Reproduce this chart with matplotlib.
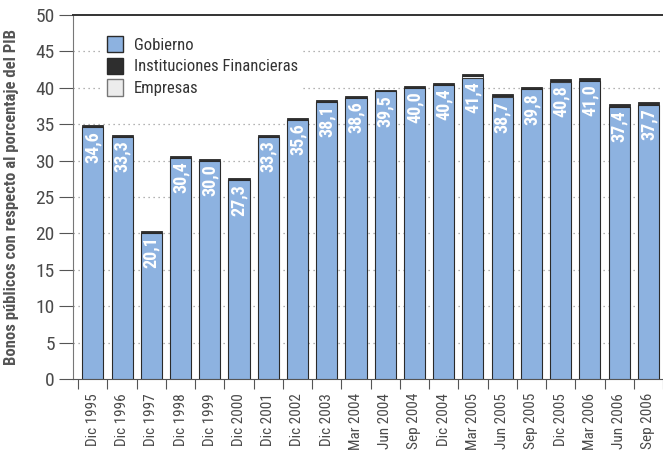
import matplotlib
matplotlib.use("Agg")
import matplotlib.pyplot as plt
from matplotlib import font_manager
from matplotlib.patches import Patch
import numpy as np

categories = ["Dic 1995", "Dic 1996", "Dic 1997", "Dic 1998", "Dic 1999", "Dic 2000",
              "Dic 2001", "Dic 2002", "Dic 2003", "Mar 2004", "Jun 2004", "Sep 2004",
              "Dic 2004", "Mar 2005", "Jun 2005", "Sep 2005", "Dic 2005", "Mar 2006",
              "Jun 2006", "Sep 2006"]
gobierno = [34.6, 33.3, 20.1, 30.4, 30.0, 27.3, 33.3, 35.6, 38.1, 38.6, 39.5, 40.0,
            40.4, 41.4, 38.7, 39.8, 40.8, 41.0, 37.4, 37.7]
empresas = [0.0, 0.0, 0.0, 0.0, 0.0, 0.0, 0.0, 0.0, 0.0, 0.0, 0.0, 0.0,
            0.0, 0.2, 0.15, 0.0, 0.15, 0.0, 0.0, 0.0]
instituciones = [0.25, 0.25, 0.25, 0.25, 0.25, 0.25, 0.25, 0.25, 0.25, 0.25, 0.25, 0.3,
                 0.3, 0.3, 0.3, 0.3, 0.3, 0.3, 0.35, 0.35]
y_ticks = list(range(0, 55, 5))

# Prefer a narrow sans face when one is available
available = {f.name for f in font_manager.fontManager.ttflist}
family = [n for n in ["Liberation Sans Narrow", "Roboto Condensed", "Roboto",
                      "DejaVu Sans"] if n in available]
plt.rcParams['font.family'] = family

blue = "#8db2e0"
dark = "#2e2e2e"
light = "#ececec"
edge = "#2a2a2a"
text_gray = "#4a4a4a"

fig = plt.figure(figsize=(6.63, 4.54), dpi=100)
ax = fig.add_axes([0.110, 0.165, 0.890, 0.802])

x = np.arange(len(categories))
w = 0.72
g = np.array(gobierno)
e = np.array(empresas)
f = np.array(instituciones)

ax.bar(x, g, width=w, color=blue, edgecolor=edge, linewidth=0.8, zorder=3)
ax.bar(x, e, width=w, bottom=g, color=light, edgecolor=edge, linewidth=0.6, zorder=3)
ax.bar(x, f, width=w, bottom=g + e, color=dark, edgecolor=edge, linewidth=0.6, zorder=3)

for xi, v in zip(x, gobierno):
    ax.text(xi, v - 0.5, f"{v:.1f}".replace(".", ","), rotation=90,
            ha="center", va="top", color="white", fontsize=13,
            fontweight="bold", zorder=4)

ax.set_xlim(-0.68, 19.39)
ax.set_ylim(0, 50)
ax.set_yticks(y_ticks)
ax.set_yticklabels([str(t) for t in y_ticks], fontsize=14, color=text_gray)
ax.set_xticks(x)
ax.set_xticklabels(categories, rotation=90, fontsize=11, color=text_gray)
ax.set_xticks(np.arange(-0.5, len(categories), 1.0), minor=True)
ax.tick_params(axis="x", which="major", length=0, pad=10)
ax.tick_params(axis="x", which="minor", length=7, color="#555555", width=0.8)
ax.tick_params(axis="y", length=10, color="#555555", width=0.8, pad=3)

for t in y_ticks[1:-1]:
    ax.axhline(t, color="#9a9a9a", linestyle=(0, (1, 3)), linewidth=0.9, zorder=1)

ax.spines["right"].set_visible(False)
ax.spines["top"].set_color("#333333")
ax.spines["top"].set_linewidth(1.4)
ax.spines["left"].set_color("#777777")
ax.spines["bottom"].set_color("#555555")
ax.spines["left"].set_linewidth(0.8)

ax.set_ylabel("Bonos públicos con respecto al porcentaje del PIB", fontsize=12,
              fontweight="bold", color="#555555", labelpad=12)

handles = [Patch(facecolor=blue, edgecolor=edge, label="Gobierno"),
           Patch(facecolor=dark, edgecolor=edge, label="Instituciones Financieras"),
           Patch(facecolor=light, edgecolor="#777777", label="Empresas")]
leg = ax.legend(handles=handles, loc="upper left", bbox_to_anchor=(0.05, 0.957),
                frameon=True, framealpha=1, edgecolor="none", fontsize=12,
                handlelength=0.95, handleheight=1.15, handletextpad=0.65,
                labelspacing=0.3, borderpad=0.3, borderaxespad=0)
for t in leg.get_texts():
    t.set_color("#333333")
leg.set_zorder(2)

fig.savefig("out.png", dpi=100)
